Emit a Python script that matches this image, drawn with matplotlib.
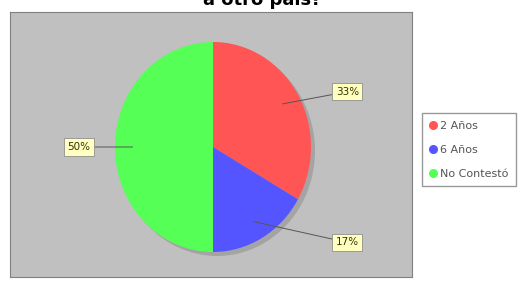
import numpy as np
import matplotlib.pyplot as plt
from matplotlib.lines import Line2D

# data
categories = ['2 Años', '6 Años', 'No Contestó']
shares = [33.3, 16.7, 50.0]
pct_labels = ['33%', '17%', '50%']
colors = ['#ff5555', '#5555ff', '#55ff55']

fig = plt.figure(figsize=(5.30, 2.82), dpi=100)
fig.patch.set_facecolor('white')

# plot area (gray panel)
ax = fig.add_axes([10 / 530, 5 / 282, 402 / 530, 265 / 282])
ax.set_facecolor('#c0c0c0')

# shadow pie behind the real one
ax.pie(shares, colors=['#a4a4a4'] * 3, startangle=90, counterclock=False,
       center=(4 / 98, -4 / 105), frame=True,
       wedgeprops=dict(linewidth=0))
wedges, _ = ax.pie(shares, colors=colors, startangle=90, counterclock=False,
                   frame=True, wedgeprops=dict(linewidth=0))

ax.set_aspect('auto')
ax.set_xlim(-203 / 98, 199 / 98)
ax.set_ylim(-130 / 105, 135 / 105)
ax.set_xticks([])
ax.set_yticks([])
for s in ax.spines.values():
    s.set_color('#808080')
    s.set_linewidth(0.8)

# percentage labels with link lines
for w, lab in zip(wedges, pct_labels):
    mid = np.deg2rad((w.theta1 + w.theta2) / 2)
    ex, ey = np.cos(mid), np.sin(mid)
    side = 1 if ex >= 0 else -1
    lx = side * 1.37
    ly = 1.05 * ey
    ax.annotate(lab, xy=(ex * 0.82, ey * 0.82), xytext=(lx, ly),
                ha='center', va='center', fontsize=7.5, color='#333300',
                bbox=dict(boxstyle='square,pad=0.35', fc='#ffffc0',
                          ec='#909090', lw=0.6),
                arrowprops=dict(arrowstyle='-', color='#555555', lw=0.7,
                                shrinkA=0, shrinkB=0))

# legend
handles = [Line2D([], [], marker='o', linestyle='', markersize=5.5,
                  markerfacecolor=c, markeredgecolor=c) for c in colors]
fig.legend(handles, categories, loc='upper left',
           bbox_to_anchor=(422 / 530, 1 - 113 / 282), fontsize=8,
           frameon=True, fancybox=False, edgecolor='#808080',
           handlelength=0.6, handletextpad=0.3, borderpad=0.7,
           labelspacing=1.25, labelcolor='#555555', borderaxespad=0)

# title (first line is cut off by the image edge, as in the original)
fig.text(262 / 530, 1 - 5 / 282, 'a otro país?', ha='center', va='baseline',
         fontsize=13, fontweight='bold')

fig.savefig('out.png', dpi=100)
